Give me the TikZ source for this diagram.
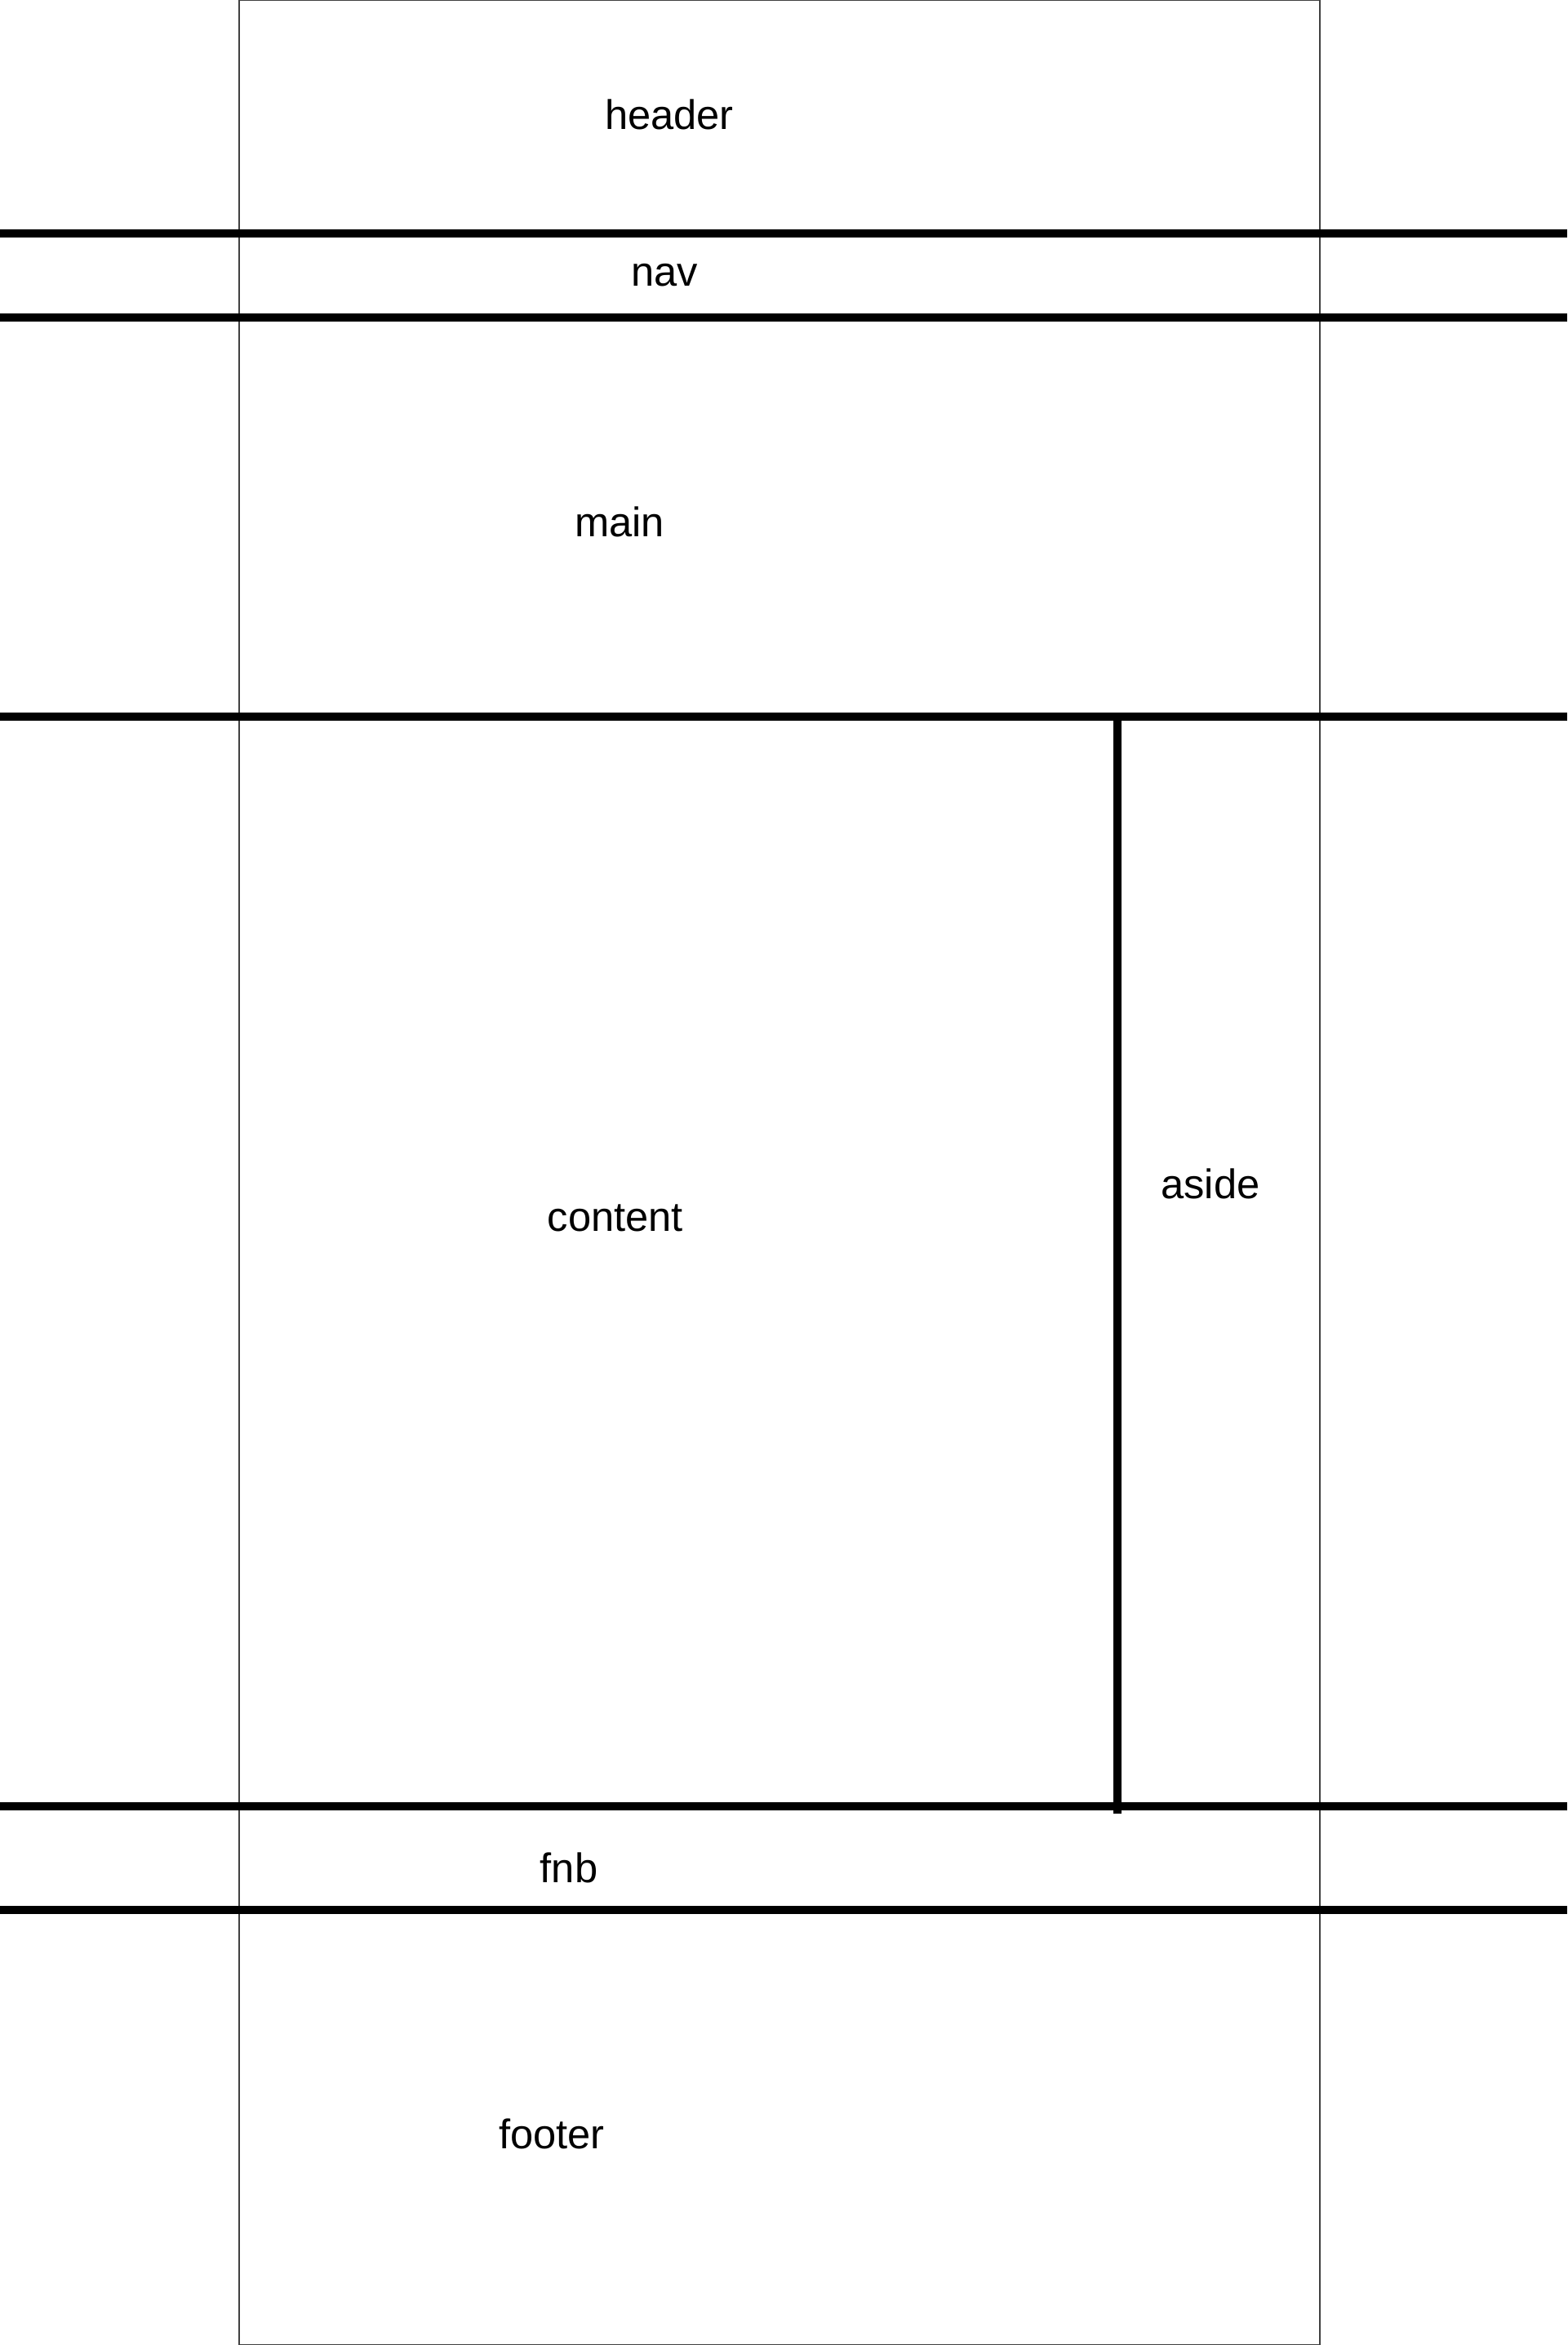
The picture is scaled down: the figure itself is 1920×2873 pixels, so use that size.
\documentclass[tikz,border=0pt]{standalone}
\usepackage{fontspec}
\setmainfont{Liberation Sans}
\tikzset{
  divider/.style={line width=2.6pt, black},
  frame/.style={line width=0.35pt, black!75},
  region/.style={font=\fontsize{14.4}{17}\selectfont, inner sep=0pt}
}
\begin{document}
\begin{tikzpicture}[x=0.01cm, y=-0.01cm]
  \useasboundingbox (0,0) rectangle (1920,2873);
  % Page frame
  \draw[frame] (293,0) rectangle (1617,2873);

  % Full-width dividers
  \foreach \name/\y in {hd/286, nv/389, mn/878, ct/2213, fb/2340} {
    \coordinate (\name-l) at (0,\y);
    \coordinate (\name-r) at (1920,\y);
    \draw[divider] (\name-l) -- (\name-r);
  }

  % Divider between content and aside
  \coordinate (as-t) at (1369,878);
  \coordinate (as-b) at (1369,2222);
  \draw[divider] (as-t) -- (as-b);

  % Region labels
  \node[region] (header) at (820,140) {header};
  \node[region] (nav) at (814,337) {nav};
  \node[region] (main) at (759,639) {main};
  \node[region] (content) at (754,1492) {content};
  \node[region] (aside) at (1483,1450) {aside};
  \node[region] (fnb) at (697,2288) {fnb};
  \node[region] (footer) at (676,2614) {footer};
\end{tikzpicture}
\end{document}
